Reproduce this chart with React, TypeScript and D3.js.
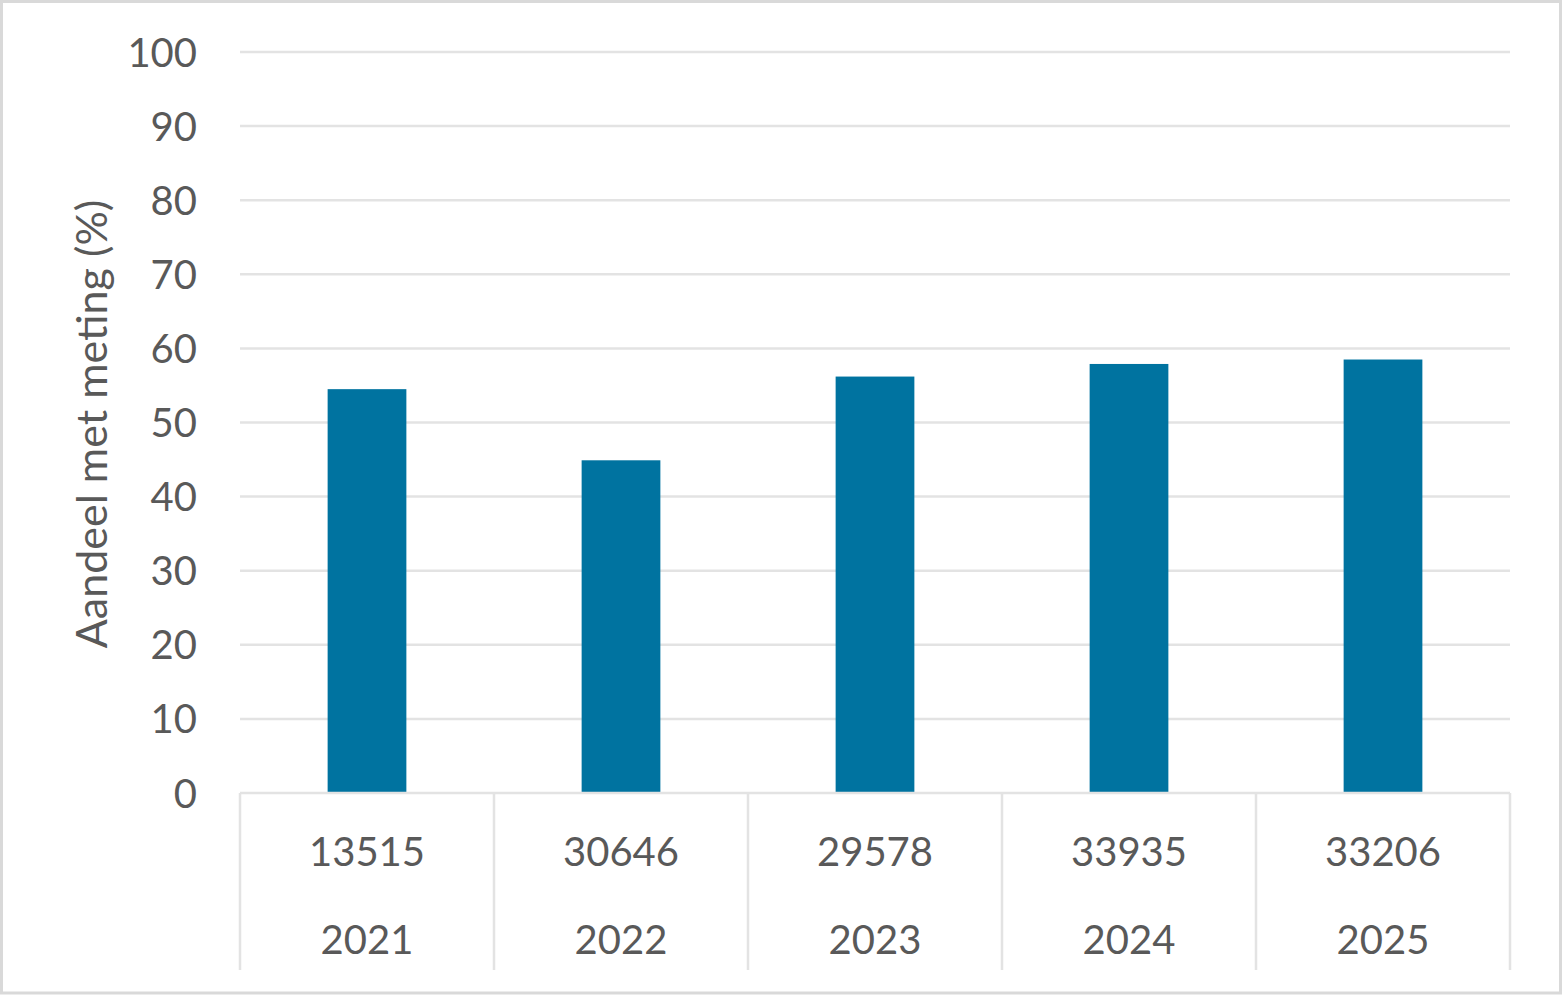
import React, { useEffect, useRef } from 'react';
import * as d3 from 'd3';

const years = ['2021', '2022', '2023', '2024', '2025'];
const counts = ['13515', '30646', '29578', '33935', '33206'];
const shares = [54.5, 44.9, 56.2, 57.9, 58.5];
const yTicks = [0, 10, 20, 30, 40, 50, 60, 70, 80, 90, 100];

const W = 1562;
const H = 995;
const grey = '#595959';
const gridColor = '#e3e3e3';
const font = 'Lato, "Open Sans", sans-serif';

export default () => {
  const svgRef = useRef<SVGSVGElement>(null);

  useEffect(() => {
    if (!svgRef.current) {
      return;
    }
    const svg = d3.select(svgRef.current);
    svg.selectAll('*').remove();

    const left = 240;
    const right = 1510;
    const top = 52;
    const bottom = 793;

    const y = d3.scaleLinear().domain([0, 100]).range([bottom, top]);
    const x = d3.scaleBand<string>().domain(years).range([left, right]).paddingInner(0).paddingOuter(0);
    const barW = x.bandwidth() * 0.31;

    // outer frame
    svg.append('rect')
      .attr('x', 1.5).attr('y', 1.5)
      .attr('width', W - 3).attr('height', H - 3.5)
      .attr('fill', '#fff')
      .attr('stroke', '#d9d9d9')
      .attr('stroke-width', 3);

    // gridlines
    svg.append('g')
      .selectAll('line')
      .data(yTicks.filter(d => d > 0))
      .enter()
      .append('line')
      .attr('x1', left).attr('x2', right)
      .attr('y1', d => y(d)).attr('y2', d => y(d))
      .attr('stroke', gridColor)
      .attr('stroke-width', 2.5);

    // y tick labels
    svg.append('g')
      .selectAll('text')
      .data(yTicks)
      .enter()
      .append('text')
      .attr('x', 197)
      .attr('y', d => y(d) + 14.5)
      .attr('text-anchor', 'end')
      .attr('font-family', font)
      .attr('font-size', 40)
      .attr('fill', grey)
      .text(d => String(d));

    // bars
    svg.append('g')
      .selectAll('rect')
      .data(shares)
      .enter()
      .append('rect')
      .attr('x', (d, i) => (x(years[i]) || 0) + (x.bandwidth() - barW) / 2)
      .attr('y', d => y(d))
      .attr('width', barW)
      .attr('height', d => y(0) - y(d))
      .attr('fill', '#0073a0');

    // category axis
    svg.append('line')
      .attr('x1', left).attr('x2', right)
      .attr('y1', bottom).attr('y2', bottom)
      .attr('stroke', gridColor)
      .attr('stroke-width', 2.5);

    const seps = years.map(d => x(d) || 0).concat([right]);
    svg.append('g')
      .selectAll('line')
      .data(seps)
      .enter()
      .append('line')
      .attr('x1', d => d).attr('x2', d => d)
      .attr('y1', bottom).attr('y2', 970)
      .attr('stroke', gridColor)
      .attr('stroke-width', 2.5);

    const cats = svg.append('g')
      .selectAll('g')
      .data(years)
      .enter()
      .append('g')
      .attr('transform', d => `translate(${(x(d) || 0) + x.bandwidth() / 2}, 0)`);

    cats.append('text')
      .attr('y', 866)
      .attr('text-anchor', 'middle')
      .attr('font-family', font)
      .attr('font-size', 40)
      .attr('fill', grey)
      .text((d, i) => counts[i]);

    cats.append('text')
      .attr('y', 954)
      .attr('text-anchor', 'middle')
      .attr('font-family', font)
      .attr('font-size', 40)
      .attr('fill', grey)
      .text(d => d);

    // y axis title
    svg.append('text')
      .attr('transform', `translate(107, 424) rotate(-90)`)
      .attr('text-anchor', 'middle')
      .attr('font-family', font)
      .attr('font-size', 43)
      .attr('fill', grey)
      .text('Aandeel met meting (%)');
  }, []);

  return (
    <svg
      ref={svgRef}
      width={W}
      height={H}
      style={{ position: 'absolute', left: 0, top: 0, display: 'block' }}
    />
  );
}
